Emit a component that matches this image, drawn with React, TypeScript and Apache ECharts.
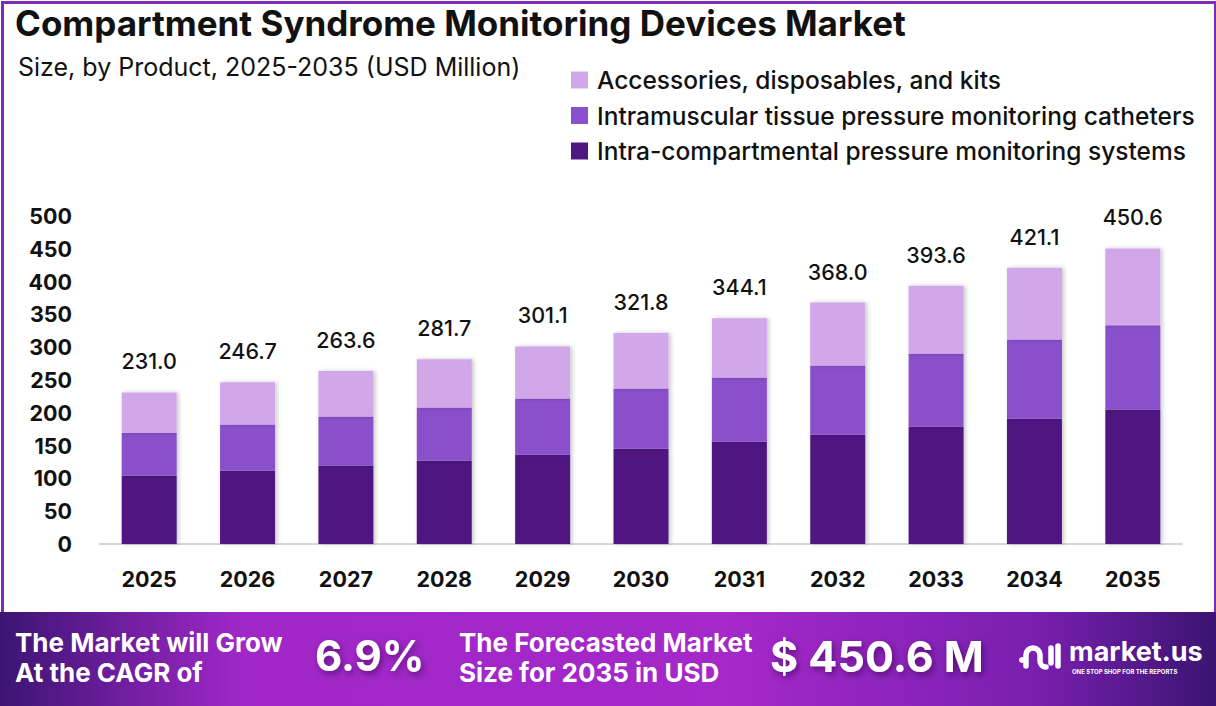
import React, { useEffect, useRef } from "react";
import * as echarts from "echarts";

const years = ["2025", "2026", "2027", "2028", "2029", "2030", "2031", "2032", "2033", "2034", "2035"];
const intraCompartmental = [104.0, 111.6, 119.7, 126.9, 136.1, 145.3, 156.0, 166.7, 178.9, 191.1, 204.9];
const intramuscular = [65.7, 70.4, 74.5, 81.1, 85.6, 91.7, 97.8, 105.5, 111.6, 120.8, 128.4];
const accessories = [61.3, 64.7, 69.4, 73.7, 79.4, 84.8, 90.3, 95.8, 103.1, 109.2, 117.3];
const totals = [231.0, 246.7, 263.6, 281.7, 301.1, 321.8, 344.1, 368.0, 393.6, 421.1, 450.6];

const seriesNames = [
  "Intra-compartmental pressure monitoring systems",
  "Intramuscular tissue pressure monitoring catheters",
  "Accessories, disposables, and kits",
];
const legendOrder = [seriesNames[2], seriesNames[1], seriesNames[0]];

const FONT = "Inter, 'Open Sans', sans-serif";
const COLORS = ["#4f1781", "#8a4fcb", "#d1a7ea"];

echarts.graphic.registerShape(
  "muLogo",
  echarts.graphic.extendPath(
    "M8 25 L8 14 A7 7 0 0 1 22 14 L22 20 A6 6 0 0 0 28 26 M33 7 L33 22 M40 5 L40 25",
    {}
  )
);

export default function App() {
  const ref = useRef<HTMLDivElement>(null);

  useEffect(() => {
    if (!ref.current) return;
    const chart = echarts.init(ref.current, undefined, { renderer: "svg" });

    const barBase = {
      type: "bar" as const,
      stack: "total",
      barWidth: 55,
      itemStyle: {
        shadowBlur: 4,
        shadowColor: "rgba(0,0,0,0.22)",
        shadowOffsetX: 2,
      },
    };

    chart.setOption({
      animation: false,
      backgroundColor: "#ffffff",
      color: COLORS,
      grid: { left: 100, right: 34, top: 216, bottom: 162 },
      legend: {
        data: legendOrder,
        orient: "vertical",
        left: 566,
        top: 62,
        itemWidth: 17,
        itemHeight: 17,
        itemGap: 9.5,
        icon: "rect",
        textStyle: {
          fontFamily: FONT,
          fontSize: 24.5,
          fontWeight: 500,
          color: "#111",
          lineHeight: 26,
          padding: [0, 0, 0, 4],
        },
      },
      xAxis: {
        type: "category",
        data: years,
        axisTick: { show: false },
        axisLine: { lineStyle: { color: "#d6d6d6", width: 2 } },
        axisLabel: {
          margin: 24,
          fontFamily: FONT,
          fontSize: 21.5,
          fontWeight: 700,
          color: "#111",
        },
      },
      yAxis: {
        type: "value",
        min: 0,
        max: 500,
        interval: 50,
        splitLine: { show: false },
        axisLine: { show: false },
        axisTick: { show: false },
        axisLabel: {
          margin: 28,
          fontFamily: FONT,
          fontSize: 21.5,
          fontWeight: 700,
          color: "#111",
        },
      },
      series: [
        { ...barBase, name: seriesNames[0], data: intraCompartmental },
        { ...barBase, name: seriesNames[1], data: intramuscular },
        {
          ...barBase,
          name: seriesNames[2],
          data: accessories,
          label: {
            show: true,
            position: "top",
            distance: 20,
            fontFamily: FONT,
            fontSize: 21.5,
            fontWeight: 500,
            color: "#111",
            formatter: (p: any) => totals[p.dataIndex].toFixed(1),
          },
        },
      ],
      graphic: [
        // outer frame
        {
          type: "rect",
          left: 0,
          top: 0,
          shape: { x: 1.5, y: 1.5, width: 1213, height: 640 },
          style: { fill: "none", stroke: "#7d2db3", lineWidth: 3 },
          z: 0,
        },
        {
          type: "text",
          left: 15,
          top: 5,
          style: {
            text: "Compartment Syndrome Monitoring Devices Market",
            font: `700 35px ${FONT}`,
            fill: "#111",
          },
        },
        {
          type: "text",
          left: 18,
          top: 54,
          style: {
            text: "Size, by Product, 2025-2035 (USD Million)",
            font: `400 25px ${FONT}`,
            fill: "#111",
          },
        },
        // bottom banner
        {
          type: "rect",
          left: 0,
          top: 612,
          shape: { width: 1216, height: 94 },
          style: {
            fill: new echarts.graphic.LinearGradient(0, 0, 1, 0, [
              { offset: 0, color: "#3b1573" },
              { offset: 0.2, color: "#a127c8" },
              { offset: 0.6, color: "#a528c9" },
              { offset: 0.85, color: "#7a1fb0" },
              { offset: 1, color: "#3a1470" },
            ]),
          },
          z: 10,
        },
        {
          type: "text",
          left: 15,
          top: 627,
          z: 11,
          style: {
            text: "The Market will Grow\nAt the CAGR of",
            font: `700 26px ${FONT}`,
            lineHeight: 30,
            fill: "#fff",
          },
        },
        {
          type: "text",
          left: 315,
          top: 634,
          z: 11,
          style: {
            text: "6.9%",
            font: `700 42px ${FONT}`,
            fill: "#fff",
            textShadowColor: "rgba(40,0,60,0.55)",
            textShadowBlur: 6,
            textShadowOffsetX: 2,
            textShadowOffsetY: 3,
          },
        },
        {
          type: "text",
          left: 459,
          top: 627,
          z: 11,
          style: {
            text: "The Forecasted Market\nSize for 2035 in USD",
            font: `700 26px ${FONT}`,
            lineHeight: 30,
            fill: "#fff",
          },
        },
        {
          type: "text",
          left: 770,
          top: 634,
          z: 11,
          style: {
            text: "$ 450.6 M",
            font: `700 43px ${FONT}`,
            fill: "#fff",
            textShadowColor: "rgba(40,0,60,0.55)",
            textShadowBlur: 6,
            textShadowOffsetX: 2,
            textShadowOffsetY: 3,
          },
        },
        // market.us logo
        {
          type: "circle",
          z: 11,
          shape: { cx: 1022, cy: 660, r: 3 },
          style: { fill: "#fff" },
        },
        {
          type: "muLogo",
          x: 1018,
          y: 641,
          z: 11,
          style: { fill: "none", stroke: "#fff", lineWidth: 5.5, lineCap: "round" },
        },
        {
          type: "text",
          left: 1069,
          top: 638,
          z: 11,
          style: {
            text: "market.us",
            font: `700 27px ${FONT}`,
            fill: "#fff",
          },
        },
        {
          type: "text",
          left: 1072,
          top: 668,
          z: 11,
          style: {
            text: "ONE STOP SHOP FOR THE REPORTS",
            font: `700 6px ${FONT}`,
            fill: "#fff",
          },
        },
      ],
    });

    return () => chart.dispose();
  }, []);

  return (
    <div
      ref={ref}
      style={{ position: "fixed", left: 0, top: 0, width: 1216, height: 706 }}
    />
  );
}
